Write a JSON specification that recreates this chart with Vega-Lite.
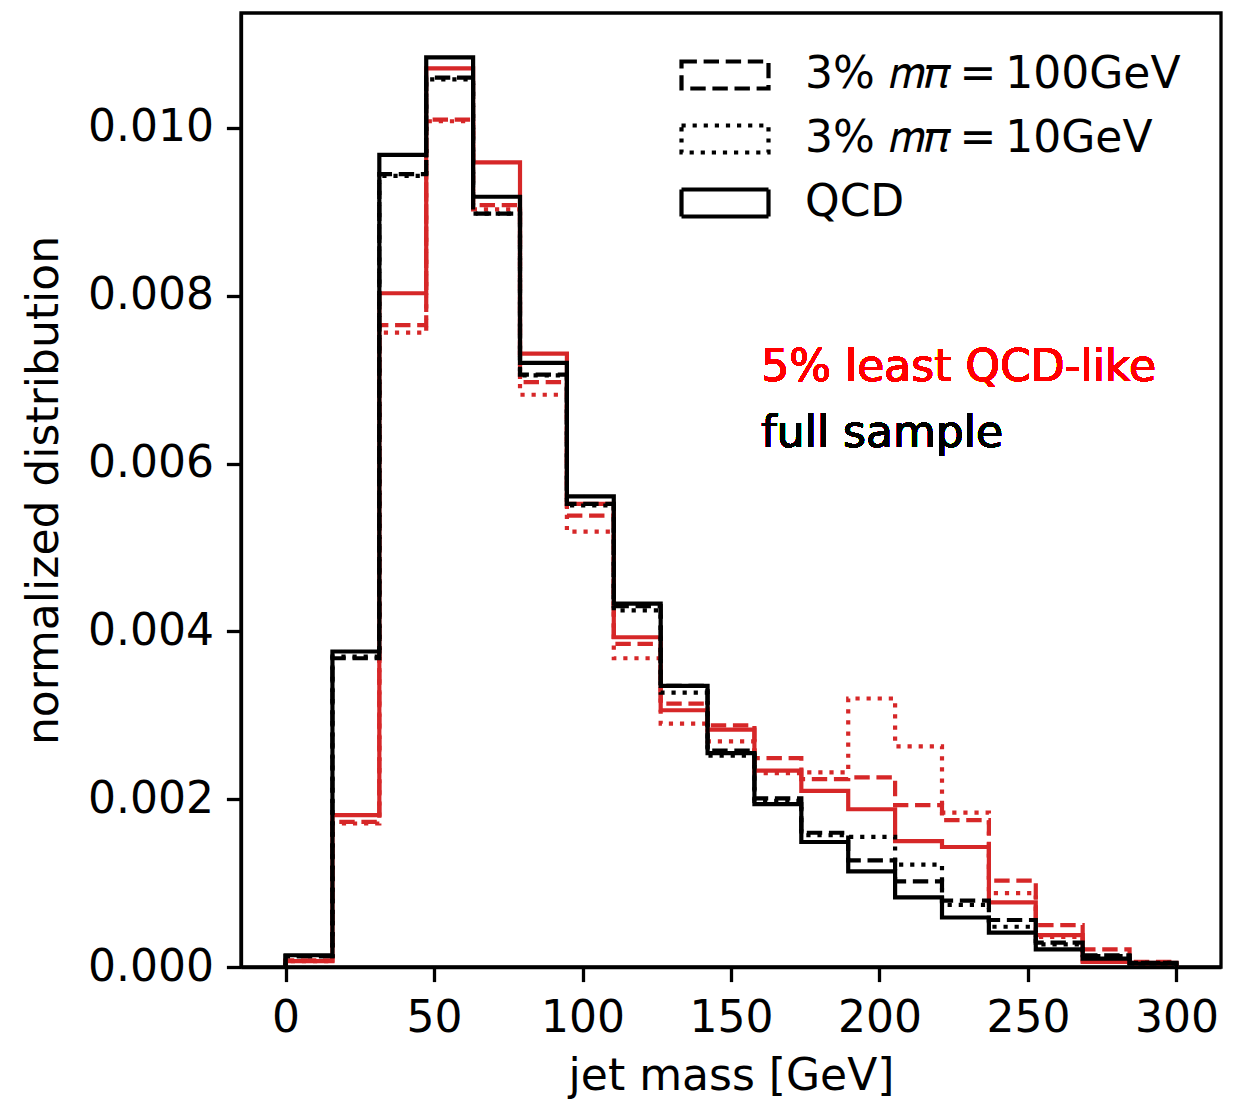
{
  "$schema": "https://vega.github.io/schema/vega-lite/v6.json",
  "width": 980,
  "height": 954,
  "autosize": {"type": "none"},
  "padding": {"left": 241, "top": 13, "right": 25, "bottom": 134},
  "background": "white",
  "config": {
    "font": "DejaVu Sans",
    "view": {"stroke": "black", "strokeWidth": 3.3},
    "axis": {
      "grid": false,
      "labelFont": "DejaVu Sans",
      "labelFontSize": 44,
      "labelColor": "black",
      "titleFont": "DejaVu Sans",
      "titleFontSize": 44,
      "titleFontWeight": "normal",
      "titleColor": "black",
      "tickColor": "black",
      "tickSize": 14.6,
      "tickWidth": 3.3,
      "domainColor": "black",
      "domainWidth": 3.3,
      "labelPadding": 13,
      "labelOverlap": false,
      "labelFlush": false
    },
    "legend": {
      "labelFont": "DejaVu Sans",
      "labelFontSize": 44,
      "labelColor": "black",
      "labelLimit": 0,
      "padding": 0
    }
  },
  "data": {
    "values": [
      {"g":"full","s":"QCD","i":0,"x":0,"y":0},
      {"g":"full","s":"QCD","i":1,"x":0,"y":0.00014},
      {"g":"full","s":"QCD","i":2,"x":15.79,"y":0.00376},
      {"g":"full","s":"QCD","i":3,"x":31.58,"y":0.00968},
      {"g":"full","s":"QCD","i":4,"x":47.37,"y":0.01084},
      {"g":"full","s":"QCD","i":5,"x":63.16,"y":0.00918},
      {"g":"full","s":"QCD","i":6,"x":78.95,"y":0.00720},
      {"g":"full","s":"QCD","i":7,"x":94.74,"y":0.00561},
      {"g":"full","s":"QCD","i":8,"x":110.53,"y":0.00433},
      {"g":"full","s":"QCD","i":9,"x":126.32,"y":0.00335},
      {"g":"full","s":"QCD","i":10,"x":142.11,"y":0.00255},
      {"g":"full","s":"QCD","i":11,"x":157.89,"y":0.00194},
      {"g":"full","s":"QCD","i":12,"x":173.68,"y":0.00149},
      {"g":"full","s":"QCD","i":13,"x":189.47,"y":0.00114},
      {"g":"full","s":"QCD","i":14,"x":205.26,"y":0.00083},
      {"g":"full","s":"QCD","i":15,"x":221.05,"y":0.00059},
      {"g":"full","s":"QCD","i":16,"x":236.84,"y":0.00041},
      {"g":"full","s":"QCD","i":17,"x":252.63,"y":0.00021},
      {"g":"full","s":"QCD","i":18,"x":268.42,"y":0.00010},
      {"g":"full","s":"QCD","i":19,"x":284.21,"y":0.00004},
      {"g":"full","s":"QCD","i":20,"x":300,"y":0},

      {"g":"full","s":"m100","i":0,"x":0,"y":0},
      {"g":"full","s":"m100","i":1,"x":0,"y":0.00013},
      {"g":"full","s":"m100","i":2,"x":15.79,"y":0.00368},
      {"g":"full","s":"m100","i":3,"x":31.58,"y":0.00945},
      {"g":"full","s":"m100","i":4,"x":47.37,"y":0.01060},
      {"g":"full","s":"m100","i":5,"x":63.16,"y":0.00898},
      {"g":"full","s":"m100","i":6,"x":78.95,"y":0.00706},
      {"g":"full","s":"m100","i":7,"x":94.74,"y":0.00552},
      {"g":"full","s":"m100","i":8,"x":110.53,"y":0.00430},
      {"g":"full","s":"m100","i":9,"x":126.32,"y":0.00335},
      {"g":"full","s":"m100","i":10,"x":142.11,"y":0.00258},
      {"g":"full","s":"m100","i":11,"x":157.89,"y":0.00201},
      {"g":"full","s":"m100","i":12,"x":173.68,"y":0.00160},
      {"g":"full","s":"m100","i":13,"x":189.47,"y":0.00127},
      {"g":"full","s":"m100","i":14,"x":205.26,"y":0.00102},
      {"g":"full","s":"m100","i":15,"x":221.05,"y":0.00079},
      {"g":"full","s":"m100","i":16,"x":236.84,"y":0.00056},
      {"g":"full","s":"m100","i":17,"x":252.63,"y":0.00029},
      {"g":"full","s":"m100","i":18,"x":268.42,"y":0.00014},
      {"g":"full","s":"m100","i":19,"x":284.21,"y":0.00005},
      {"g":"full","s":"m100","i":20,"x":300,"y":0},

      {"g":"full","s":"m10","i":0,"x":0,"y":0},
      {"g":"full","s":"m10","i":1,"x":0,"y":0.00013},
      {"g":"full","s":"m10","i":2,"x":15.79,"y":0.00370},
      {"g":"full","s":"m10","i":3,"x":31.58,"y":0.00943},
      {"g":"full","s":"m10","i":4,"x":47.37,"y":0.01058},
      {"g":"full","s":"m10","i":5,"x":63.16,"y":0.00898},
      {"g":"full","s":"m10","i":6,"x":78.95,"y":0.00705},
      {"g":"full","s":"m10","i":7,"x":94.74,"y":0.00550},
      {"g":"full","s":"m10","i":8,"x":110.53,"y":0.00425},
      {"g":"full","s":"m10","i":9,"x":126.32,"y":0.00327},
      {"g":"full","s":"m10","i":10,"x":142.11,"y":0.00252},
      {"g":"full","s":"m10","i":11,"x":157.89,"y":0.00198},
      {"g":"full","s":"m10","i":12,"x":173.68,"y":0.00157},
      {"g":"full","s":"m10","i":13,"x":189.47,"y":0.00155},
      {"g":"full","s":"m10","i":14,"x":205.26,"y":0.00122},
      {"g":"full","s":"m10","i":15,"x":221.05,"y":0.00074},
      {"g":"full","s":"m10","i":16,"x":236.84,"y":0.00048},
      {"g":"full","s":"m10","i":17,"x":252.63,"y":0.00027},
      {"g":"full","s":"m10","i":18,"x":268.42,"y":0.00013},
      {"g":"full","s":"m10","i":19,"x":284.21,"y":0.00005},
      {"g":"full","s":"m10","i":20,"x":300,"y":0},

      {"g":"least","s":"QCD","i":0,"x":0,"y":0},
      {"g":"least","s":"QCD","i":1,"x":0,"y":0.00007},
      {"g":"least","s":"QCD","i":2,"x":15.79,"y":0.00181},
      {"g":"least","s":"QCD","i":3,"x":31.58,"y":0.00803},
      {"g":"least","s":"QCD","i":4,"x":47.37,"y":0.01071},
      {"g":"least","s":"QCD","i":5,"x":63.16,"y":0.00959},
      {"g":"least","s":"QCD","i":6,"x":78.95,"y":0.00731},
      {"g":"least","s":"QCD","i":7,"x":94.74,"y":0.00552},
      {"g":"least","s":"QCD","i":8,"x":110.53,"y":0.00393},
      {"g":"least","s":"QCD","i":9,"x":126.32,"y":0.00306},
      {"g":"least","s":"QCD","i":10,"x":142.11,"y":0.00283},
      {"g":"least","s":"QCD","i":11,"x":157.89,"y":0.00234},
      {"g":"least","s":"QCD","i":12,"x":173.68,"y":0.00210},
      {"g":"least","s":"QCD","i":13,"x":189.47,"y":0.00188},
      {"g":"least","s":"QCD","i":14,"x":205.26,"y":0.00150},
      {"g":"least","s":"QCD","i":15,"x":221.05,"y":0.00143},
      {"g":"least","s":"QCD","i":16,"x":236.84,"y":0.00077},
      {"g":"least","s":"QCD","i":17,"x":252.63,"y":0.00038},
      {"g":"least","s":"QCD","i":18,"x":268.42,"y":0.00006},
      {"g":"least","s":"QCD","i":19,"x":284.21,"y":0.00005},
      {"g":"least","s":"QCD","i":20,"x":300,"y":0},

      {"g":"least","s":"m100","i":0,"x":0,"y":0},
      {"g":"least","s":"m100","i":1,"x":0,"y":0.00008},
      {"g":"least","s":"m100","i":2,"x":15.79,"y":0.00173},
      {"g":"least","s":"m100","i":3,"x":31.58,"y":0.00765},
      {"g":"least","s":"m100","i":4,"x":47.37,"y":0.01010},
      {"g":"least","s":"m100","i":5,"x":63.16,"y":0.00908},
      {"g":"least","s":"m100","i":6,"x":78.95,"y":0.00697},
      {"g":"least","s":"m100","i":7,"x":94.74,"y":0.00538},
      {"g":"least","s":"m100","i":8,"x":110.53,"y":0.00385},
      {"g":"least","s":"m100","i":9,"x":126.32,"y":0.00314},
      {"g":"least","s":"m100","i":10,"x":142.11,"y":0.00288},
      {"g":"least","s":"m100","i":11,"x":157.89,"y":0.00249},
      {"g":"least","s":"m100","i":12,"x":173.68,"y":0.00224},
      {"g":"least","s":"m100","i":13,"x":189.47,"y":0.00226},
      {"g":"least","s":"m100","i":14,"x":205.26,"y":0.00193},
      {"g":"least","s":"m100","i":15,"x":221.05,"y":0.00175},
      {"g":"least","s":"m100","i":16,"x":236.84,"y":0.00103},
      {"g":"least","s":"m100","i":17,"x":252.63,"y":0.00050},
      {"g":"least","s":"m100","i":18,"x":268.42,"y":0.00021},
      {"g":"least","s":"m100","i":19,"x":284.21,"y":0.00006},
      {"g":"least","s":"m100","i":20,"x":300,"y":0},

      {"g":"least","s":"m10","i":0,"x":0,"y":0},
      {"g":"least","s":"m10","i":1,"x":0,"y":0.00007},
      {"g":"least","s":"m10","i":2,"x":15.79,"y":0.00171},
      {"g":"least","s":"m10","i":3,"x":31.58,"y":0.00756},
      {"g":"least","s":"m10","i":4,"x":47.37,"y":0.01008},
      {"g":"least","s":"m10","i":5,"x":63.16,"y":0.00903},
      {"g":"least","s":"m10","i":6,"x":78.95,"y":0.00682},
      {"g":"least","s":"m10","i":7,"x":94.74,"y":0.00519},
      {"g":"least","s":"m10","i":8,"x":110.53,"y":0.00368},
      {"g":"least","s":"m10","i":9,"x":126.32,"y":0.00290},
      {"g":"least","s":"m10","i":10,"x":142.11,"y":0.00269},
      {"g":"least","s":"m10","i":11,"x":157.89,"y":0.00231},
      {"g":"least","s":"m10","i":12,"x":173.68,"y":0.00232},
      {"g":"least","s":"m10","i":13,"x":189.47,"y":0.00320},
      {"g":"least","s":"m10","i":14,"x":205.26,"y":0.00263},
      {"g":"least","s":"m10","i":15,"x":221.05,"y":0.00184},
      {"g":"least","s":"m10","i":16,"x":236.84,"y":0.00088},
      {"g":"least","s":"m10","i":17,"x":252.63,"y":0.00036},
      {"g":"least","s":"m10","i":18,"x":268.42,"y":0.00008},
      {"g":"least","s":"m10","i":19,"x":284.21,"y":0.00004},
      {"g":"least","s":"m10","i":20,"x":300,"y":0}
    ]
  },
  "layer": [
    {
      "transform": [{"filter": "datum.g === 'least'"}],
      "mark": {"type": "line", "interpolate": "step-after", "strokeWidth": 4.2, "color": "#d62728", "strokeCap": "butt", "strokeJoin": "miter"},
      "encoding": {
        "x": {"field": "x", "type": "quantitative", "scale": {"domain": [-15, 315], "nice": false, "zero": false},
              "axis": {"values": [0, 50, 100, 150, 200, 250, 300], "title": "jet mass [GeV]", "titlePadding": 14, "labelPadding": 15}},
        "y": {"field": "y", "type": "quantitative", "scale": {"domain": [0, 0.01137], "nice": false},
              "axis": {"values": [0, 0.002, 0.004, 0.006, 0.008, 0.01], "format": ".3f", "title": "normalized distribution", "titlePadding": 21}},
        "strokeDash": {"field": "s", "type": "nominal",
          "scale": {"domain": ["m100", "m10", "QCD"], "range": [[15.4, 6.7], [4.2, 6.9], [1, 0]]},
          "legend": {"title": null, "orient": "top-right", "offset": 40,
            "symbolType": "M-2.9,-0.9L2.9,-0.9L2.9,0.9L-2.9,0.9Z",
            "symbolSize": 900, "symbolStrokeWidth": 4.2, "symbolStrokeColor": "black", "symbolFillColor": "transparent",
            "rowPadding": 20, "labelOffset": 58,
            "labelExpr": "datum.label === 'm100' ? '3% \ud835\udc5a\ud835\udf0b\u2009=\u2009100GeV' : datum.label === 'm10' ? '3% \ud835\udc5a\ud835\udf0b\u2009=\u200910GeV' : 'QCD'"}},
        "order": {"field": "i", "type": "quantitative"}
      }
    },
    {
      "transform": [{"filter": "datum.g === 'full'"}],
      "mark": {"type": "line", "interpolate": "step-after", "strokeWidth": 4.2, "color": "black", "strokeCap": "butt", "strokeJoin": "miter"},
      "encoding": {
        "x": {"field": "x", "type": "quantitative"},
        "y": {"field": "y", "type": "quantitative"},
        "strokeDash": {"field": "s", "type": "nominal"},
        "order": {"field": "i", "type": "quantitative"}
      }
    },
    {
      "mark": {"type": "text", "align": "left", "baseline": "alphabetic", "fontSize": 44, "font": "DejaVu Sans", "color": "#ff0000"},
      "encoding": {"x": {"datum": 160.2}, "y": {"datum": 0.00699}, "text": {"value": "5% least QCD-like"}}
    },
    {
      "mark": {"type": "text", "align": "left", "baseline": "alphabetic", "fontSize": 44, "font": "DejaVu Sans", "color": "black"},
      "encoding": {"x": {"datum": 160.2}, "y": {"datum": 0.0062}, "text": {"value": "full sample"}}
    }
  ]
}
